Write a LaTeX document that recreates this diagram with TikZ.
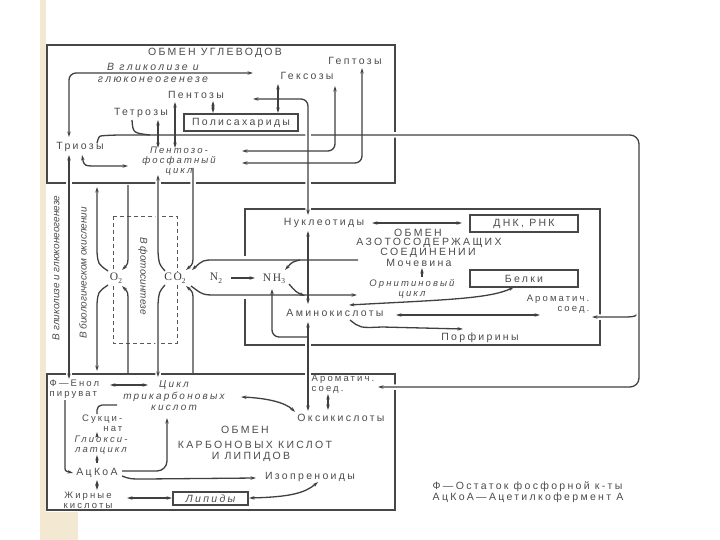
\documentclass[tikz,border=0pt]{standalone}
\usepackage{fontspec}
\newfontfamily\df[LetterSpace=22]{Liberation Sans}
\newfontfamily\dfn{Liberation Sans}
\newfontfamily\dfs[LetterSpace=15]{Liberation Serif}
\usetikzlibrary{arrows.meta}
\definecolor{beige}{RGB}{243,233,210}
\newcommand\subx[1]{\raisebox{-2.5pt}{\fontsize{7.5}{7.5}\selectfont #1}}
\begin{document}
\begin{tikzpicture}[x=1pt,y=-1pt,
  >={Stealth[length=5.5pt,width=3.4pt]},
  t/.style={font=\df\fontsize{10.5}{10}\selectfont, text=black!70, inner sep=0.5pt},
  ti/.style={font=\df\itshape\fontsize{10.5}{10}\selectfont, text=black!70, inner sep=0.5pt},
  tm/.style={font=\df\fontsize{9.5}{10}\selectfont, text=black!70, inner sep=0.5pt},
  tmi/.style={font=\df\itshape\fontsize{9.5}{10}\selectfont, text=black!70, inner sep=0.5pt},
  tr/.style={font=\dfn\itshape\fontsize{10}{10}\selectfont, text=black!70, inner sep=0.5pt},
  tc/.style={font=\dfs\fontsize{11.5}{11}\selectfont, text=black!75, inner sep=1pt, fill=white},
  box/.style={draw=black!72, line width=2.8pt},
  sbox/.style={draw=black!72, line width=1.4pt, inner sep=0pt},
  ln/.style={draw=black!75, line width=1.3pt},
  gap/.style={preaction={draw=white, line width=5.5pt, arrows=-}}
]
\useasboundingbox (0,0) rectangle (720,540);
\fill[white] (0,0) rectangle (720,540);
\fill[beige] (40,0) rectangle (46,540);
\fill[beige] (40,512) rectangle (78,540);

% main boxes
\draw[box] (47,45) rectangle (395,183);
\draw[box] (245,256) -- (245,209) -- (600,209) -- (600,345) -- (245,345) -- (245,299);
\draw[box] (47,374) rectangle (395,510);

% dashed rectangle (photosynthesis)
\draw[black!65, line width=0.9pt, dash pattern=on 4pt off 3pt] (113,216) rectangle (177,343);

% big loop from triozy to aromatic compounds
\draw[ln,gap,->] (639,298) .. controls (639,317) .. (622,317) -- (592,317);
\draw[ln,gap,->,rounded corners=9pt] (97,143) .. controls (99,136) .. (112,135) -- (639,135) -- (639,387) -- (378,387);
\draw[ln] (132,120) .. controls (133,133) .. (150,135);

% top box arrows
\draw[ln,<->,gap,rounded corners=7pt] (253,99) -- (308,99) -- (308,215);
\draw[ln,<->,rounded corners=7pt] (69,137) -- (69,73) -- (253,73);
\draw[ln,<->] (213,101) -- (213,113);
\draw[ln,<->] (278,84) -- (278,113);
\draw[ln,<->] (158,120) -- (158,148);
\draw[ln,<->] (175,102) -- (175,148);
\draw[ln,<->] (82,155) .. controls (84,166) .. (98,166) -- (128,166);
\draw[ln,<->,rounded corners=7pt] (242,151) -- (335,151) -- (335,86);
\draw[ln,<->,rounded corners=7pt] (242,163) -- (362,163) -- (362,68);

% middle verticals
\draw[ln,<->,gap] (69,155) -- (69,379);
% O2
\draw[ln,->] (108,271) .. controls (98,264) .. (97,252) -- (97,187);
\draw[ln,->] (108,285) .. controls (98,292) .. (97,304) -- (97,371);
\draw[ln,->] (128,185) -- (128,254) .. controls (128,264) .. (122,270);
\draw[ln,->] (128,373) -- (128,302) .. controls (128,292) .. (122,286);
% CO2
\draw[ln,->,gap] (165,271) .. controls (159,264) .. (158,252) -- (158,175);
\draw[ln,->,gap] (165,285) .. controls (159,292) .. (158,304) -- (158,377);
\draw[ln,->,gap] (193,168) -- (193,254) .. controls (193,264) .. (186,270);
\draw[ln,->] (193,373) -- (193,302) .. controls (193,292) .. (186,286);

% nitrogen
\draw[ln,->] (358,260) -- (215,260) .. controls (203,260) .. (192,270);
\draw[ln,->] (191,286) .. controls (203,295) .. (217,295) -- (357,295);
\draw[ln,->] (231,278) -- (255,278);
\draw[ln,->] (300,260) .. controls (292,262) .. (285,270);
\draw[ln,->] (289,284) .. controls (296,292) .. (305,296);

% box 2 arrows
\draw[ln,<->] (308,231) -- (308,304);
\draw[ln,<->,gap] (308,322) -- (308,411);
\draw[ln,<-,rounded corners=7pt] (272,289) -- (272,337) -- (308,337);
\draw[ln,<->] (372,223) -- (462,223);
\draw[ln,->] (422,277) -- (422,268);
\draw[ln,<->] (349,305) .. controls (440,300) and (490,299) .. (514,287);
\draw[ln,<->] (396,315) -- (540,315);
\draw[ln,->] (350,320) .. controls (360,328) .. (382,327) -- (463,329);

% box 3 arrows
\draw[ln,<->] (110,385) -- (148,385);
\draw[ln,->] (65,400) -- (65,466) .. controls (65,471) .. (73,473);
\draw[ln,->] (97,463) -- (97,455);
\draw[ln,->] (97,437) -- (97,432);
\draw[ln,rounded corners=5pt] (97,414) -- (97,405) -- (117,405);
\draw[ln,->,rounded corners=10pt] (122,471) -- (167,471) -- (167,418);
\draw[ln,->] (122,476) .. controls (130,479) .. (145,479) -- (256,478);
\draw[ln,<->] (97,480) -- (97,490);
\draw[ln,<->] (127,498) -- (172,498);
\draw[ln,<->] (249,498) .. controls (290,497) and (305,493) .. (318,482);
\draw[ln,<->] (328,394) -- (328,410);
\draw[ln,<->] (241,397) .. controls (265,398) and (285,402) .. (295,412);

% small boxes
\node[sbox, t, minimum width=114pt, minimum height=17pt] (poly) at (241,122.5) {Полисахариды};
\node[sbox, t, minimum width=108pt, minimum height=17pt] (dna) at (524,223.5) {ДНК, РНК};
\node[sbox, t, minimum width=108pt, minimum height=17pt] (prot) at (524,278.5) {Белки};
\node[sbox, ti, minimum width=75pt, minimum height=13pt] (lip) at (210.5,498.5) {Липиды};

% gases
\node[tc] (o2) at (116,278) {O\subx{2}};
\node[tc] (co2) at (175,278) {CO\subx{2}};
\node[tc, fill=none] (n2) at (216,278) {N\subx{2}};
\node[tc, fill=none] (nh3) at (274,279) {NH\subx{3}};

% rotated labels
\node[tr, rotate=90] (lg) at (56,268) {В гликолизе и глюконеогенезе};
\node[tr, rotate=90] (lb) at (83,273) {В биологическом окислении};
\node[tr, rotate=-90] (lf) at (143,276) {В фотосинтезе};

% top box texts
\node[t] (ttl1) at (215,53) {ОБМЕН УГЛЕВОДОВ};
\node[t] (hep) at (355,61) {Гептозы};
\node[ti] (gl1) at (153,67) {В гликолизе и};
\node[ti] (gl2) at (153,80) {глюконеогенезе};
\node[t] (hex) at (307,76) {Гексозы};
\node[t] (pen) at (196,95) {Пентозы};
\node[t] (tet) at (141,113) {Тетрозы};
\node[t] (tri) at (80,147) {Триозы};
\node[tmi, align=center] (ppc) at (179,161) {Пентозо-\\фосфатный\\цикл};

% box 2 texts
\node[t] (nuc) at (324,223) {Нуклеотиды};
\node[t] (t2a) at (418,233) {ОБМЕН};
\node[t] (t2b) at (429,243) {АЗОТОСОДЕРЖАЩИХ};
\node[t] (t2c) at (428,253) {СОЕДИНЕНИИ};
\node[t] (urea) at (419,263) {Мочевина};
\node[tmi, align=center] (orn) at (412,289) {Орнитиновый\\цикл};
\node[t] (ami) at (335,313) {Аминокислоты};
\node[tm, align=right, anchor=east] (aro2) at (590,304.5) {Ароматич.\\соед.};
\node[t] (por) at (480,338) {Порфирины};

% box 3 texts
\node[tm, align=left, anchor=west] (pep) at (49,389) {Ф—Енол\\пируват};
\node[tmi, align=center, font=\df\itshape\fontsize{10}{11.5}\selectfont] (tca) at (174,396) {Цикл\\трикарбоновых\\кислот};
\node[tm, align=right, anchor=east] (suc) at (123,423) {Сукци-\\нат};
\node[tmi, align=center] (glx) at (101,445.5) {Глиокси-\\латцикл};
\node[t] (acoa) at (97,473) {АцКоА};
\node[tm, align=center] (fa) at (88,500) {Жирные\\кислоты};
\node[t] (iso) at (310,477) {Изопреноиды};
\node[t] (oxy) at (341,418) {Оксикислоты};
\node[tm, align=left, anchor=west] (aro3) at (311,384.5) {Ароматич.\\соед.};
\node[t] (t3a) at (245,430) {ОБМЕН};
\node[t] (t3b) at (255,445) {КАРБОНОВЫХ КИСЛОТ};
\node[t] (t3c) at (251,457) {И ЛИПИДОВ};

% caption
\node[t, align=left, anchor=west, font=\df\fontsize{10.5}{11}\selectfont] (cap) at (432,492) {Ф—Остаток фосфорной к-ты\\АцКоА—Ацетилкофермент А};
\end{tikzpicture}
\end{document}
